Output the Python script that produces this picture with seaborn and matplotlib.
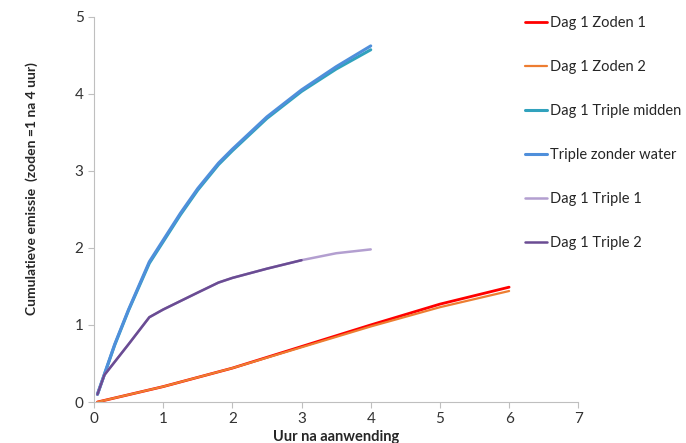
import numpy as np
import pandas as pd
import matplotlib.pyplot as plt
import seaborn as sns

# ---- data ----
x_triple = [0.05, 0.3, 0.5, 0.8, 1.0, 1.25, 1.5, 1.8, 2.0, 2.5, 3.0, 3.5, 4.0]
zonder_water = [0.1, 0.75, 1.2, 1.82, 2.1, 2.45, 2.77, 3.1, 3.28, 3.7, 4.05, 4.35, 4.62]
triple_midden = [0.1, 0.74, 1.19, 1.8, 2.08, 2.43, 2.75, 3.08, 3.26, 3.68, 4.03, 4.32, 4.57]

x_t1 = [0.05, 0.15, 0.5, 0.8, 1.0, 1.5, 1.8, 2.0, 2.5, 3.0, 3.5, 4.0]
triple_1 = [0.1, 0.35, 0.75, 1.1, 1.2, 1.42, 1.55, 1.61, 1.73, 1.84, 1.93, 1.98]
x_t2 = [0.05, 0.15, 0.5, 0.8, 1.0, 1.5, 1.8, 2.0, 2.5, 3.0]
triple_2 = [0.1, 0.35, 0.75, 1.1, 1.2, 1.42, 1.55, 1.61, 1.73, 1.84]

x_zoden = [0.05, 1.0, 2.0, 3.0, 4.0, 5.0, 6.0]
zoden_1 = [0.0, 0.2, 0.44, 0.72, 1.0, 1.27, 1.49]
zoden_2 = [0.0, 0.2, 0.44, 0.71, 0.98, 1.23, 1.44]

series = [
    ("Dag 1 Zoden 1", x_zoden, zoden_1, "#FF0000", 2.0),
    ("Dag 1 Zoden 2", x_zoden, zoden_2, "#ED7D31", 1.6),
    ("Dag 1 Triple midden", x_triple, triple_midden, "#31A2BD", 2.2),
    ("Triple zonder water", x_triple, zonder_water, "#4F8FDB", 2.2),
    ("Dag 1 Triple 1", x_t1, triple_1, "#B39FD0", 1.8),
    ("Dag 1 Triple 2", x_t2, triple_2, "#6A4C93", 1.8),
]

# ---- plot ----
sns.set_style("white")
plt.rcParams["font.family"] = ["Lato", "DejaVu Sans"]

fig = plt.figure(figsize=(6.86, 4.43), dpi=100)
ax = fig.add_axes([0.137, 0.0925, 0.706, 0.87])

for name, xs, ys, col, lw in series:
    df = pd.DataFrame({"x": xs, "y": ys})
    sns.lineplot(data=df, x="x", y="y", ax=ax, color=col, lw=lw, label=name)

ax.set_xlim(0, 7)
ax.set_ylim(0, 5)
ax.set_xticks(range(0, 8))
ax.set_yticks(range(0, 6))
ax.tick_params(labelsize=11, colors="#333333", length=4, width=0.8,
               direction="out", color="#BFBFBF", left=True, bottom=True)
for s in ["top", "right"]:
    ax.spines[s].set_visible(False)
for s in ["left", "bottom"]:
    ax.spines[s].set_color("#BFBFBF")
    ax.spines[s].set_linewidth(0.8)

ax.set_xlabel("Uur na aanwending", fontsize=10.5, fontweight="bold")
ax.xaxis.set_label_coords(0.5, -0.073)
ax.set_ylabel("Cumulatieve emissie  (zoden =1 na 4 uur)", fontsize=10,
              fontweight="bold")
ax.yaxis.set_label_coords(-0.115, 0.555)

ax.legend(loc="upper left", bbox_to_anchor=(0.765, 0.963),
          bbox_transform=fig.transFigure, frameon=False, fontsize=10.5,
          handlelength=1.5, handletextpad=0.25, labelspacing=2.05,
          borderpad=0, borderaxespad=0)

fig.savefig("out.png", dpi=100)
